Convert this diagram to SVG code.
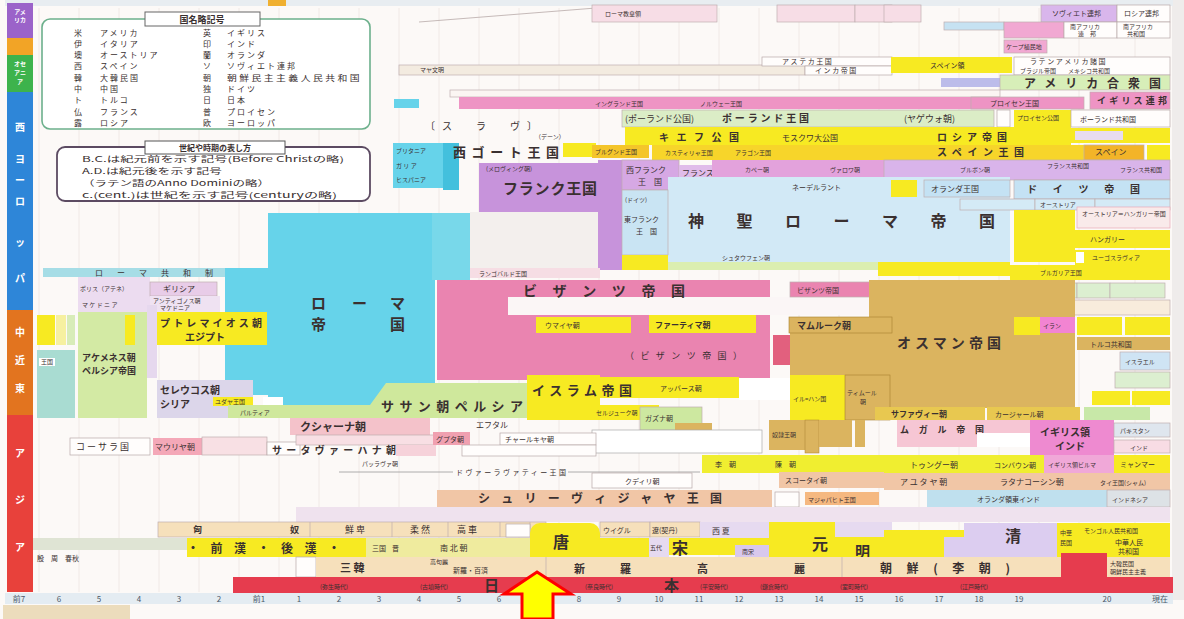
<svg xmlns="http://www.w3.org/2000/svg" width="1184" height="619" viewBox="0 0 1184 619">
<defs>
<style>
text{font-family:"Noto Sans CJK JP","Noto Sans CJK SC",sans-serif;fill:#3a3030}
.b{font-weight:bold}
.cy{fill:#66d3ea}
.pk{fill:#ea84b0}
.pu{fill:#c793db}
.hb{fill:#d2e9f6}
.ot{fill:#dbb45f}
.ye{fill:#f7ea22}
.yo{fill:#f4c52a}
.lg{fill:#d3eaa4}
.lv{fill:#ddd3ec}
.pe{fill:#f1c6a6}
.be{fill:#f6e0bb}
.rd{fill:#e63c4e}
.lp{fill:#f7dde6}
.bx{stroke:#bfaeb0;stroke-width:.7}
.wb{fill:#fffdfc;stroke:#b8a8a8;stroke-width:.7}
.s6{font-size:6px}
.s7{font-size:7px}
.s8{font-size:8px}
.s9{font-size:9px}
.ax{font-size:8px;fill:#4a5868;text-anchor:middle}
.sb{font-size:10px;fill:#fff;font-weight:bold;text-anchor:middle}
.lt{font-size:8px;letter-spacing:2px}
</style>
</defs>
<rect width="1184" height="619" fill="#fcf9f7"/>
<rect x="1172" y="0" width="12" height="600" fill="#efeceb"/>
<g id="grid">
<path d="M39 8V592M79 8V592M119 8V592M159 8V592M199 8V592M239 8V592M279 8V592M319 8V592M359 8V592M399 8V592M439 8V592M479 8V592M519 8V592M559 8V592M599 8V592M639 8V592M679 8V592M719 8V592M759 8V592M799 8V592M839 8V592M879 8V592M919 8V592M959 8V592M999 8V592M1039 8V592M1079 8V592M1135 8V592" stroke="#eee6e2" stroke-width="0.8"/>
</g>
<g id="top-axis">
<rect x="5" y="0" width="1168" height="6" fill="#e8edf1"/>
<rect x="268" y="0" width="18" height="6" fill="#f0b030"/>
<line x1="419" y1="22" x2="596" y2="8" stroke="#b8aaa8" stroke-width="0.8"/>
</g>
<g id="sidebar">
<rect x="7" y="3" width="26" height="35" fill="#9b63c9"/>
<rect x="7" y="38" width="26" height="17" fill="#f2a426"/>
<rect x="7" y="55" width="26" height="37" fill="#3db34c"/>
<rect x="7" y="92" width="26" height="218" fill="#2e86d8"/>
<rect x="7" y="310" width="26" height="105" fill="#e2741f"/>
<rect x="7" y="415" width="26" height="177" fill="#e8413b"/>
<text x="20" y="14" class="sb" style="font-size:6px">アメ</text>
<text x="20" y="22" class="sb" style="font-size:6px">リカ</text>
<text x="20" y="66" class="sb" style="font-size:6px">オセ</text>
<text x="20" y="75" class="sb" style="font-size:6px">アニ</text>
<text x="20" y="84" class="sb" style="font-size:6px">ア</text>
<text x="20" y="131" class="sb">西</text>
<text x="20" y="163" class="sb">ヨ</text>
<text x="20" y="184" class="sb">ー</text>
<text x="20" y="205" class="sb">ロ</text>
<text x="20" y="246" class="sb">ッ</text>
<text x="20" y="282" class="sb">パ</text>
<text x="20" y="336" class="sb">中</text>
<text x="20" y="364" class="sb">近</text>
<text x="20" y="392" class="sb">東</text>
<text x="20" y="457" class="sb">ア</text>
<text x="20" y="504" class="sb">ジ</text>
<text x="20" y="551" class="sb">ア</text>
</g>
<g id="legend-countries">
<rect x="42" y="19" width="328" height="110" rx="8" fill="#fff" stroke="#6cb08c" stroke-width="1.6"/>
<rect x="145" y="12" width="115" height="14" fill="#fff" stroke="#666" stroke-width="1"/>
<text x="202" y="23" class="s9 b" text-anchor="middle">国名略記号</text>
<g class="lt">
<text x="74" y="36">米</text><text x="100" y="36">アメリカ</text>
<text x="74" y="47">伊</text><text x="100" y="47">イタリア</text>
<text x="74" y="58">墺</text><text x="100" y="58">オーストリア</text>
<text x="74" y="69">西</text><text x="100" y="69">スペイン</text>
<text x="74" y="81">韓</text><text x="100" y="81">大韓民国</text>
<text x="74" y="92">中</text><text x="100" y="92">中国</text>
<text x="74" y="103">ト</text><text x="100" y="103">トルコ</text>
<text x="74" y="115">仏</text><text x="100" y="115">フランス</text>
<text x="74" y="126">露</text><text x="100" y="126">ロシア</text>
<text x="203" y="36">英</text><text x="227" y="36">イギリス</text>
<text x="203" y="47">印</text><text x="227" y="47">インド</text>
<text x="203" y="58">蘭</text><text x="227" y="58">オランダ</text>
<text x="203" y="69">ソ</text><text x="227" y="69">ソヴィエト連邦</text>
<text x="203" y="81">朝</text><text x="227" y="81" textLength="135" lengthAdjust="spacingAndGlyphs">朝鮮民主主義人民共和国</text>
<text x="203" y="92">独</text><text x="227" y="92">ドイツ</text>
<text x="203" y="103">日</text><text x="227" y="103">日本</text>
<text x="203" y="115">普</text><text x="227" y="115">プロイセン</text>
<text x="203" y="126">欧</text><text x="227" y="126">ヨーロッパ</text>
</g>
</g>
<g id="legend-periods">
<rect x="57" y="147" width="313" height="54" rx="8" fill="#fff" stroke="#5c4b62" stroke-width="1.8"/>
<rect x="145" y="141" width="140" height="13" fill="#fff" stroke="#555" stroke-width="1"/>
<text x="215" y="151" class="s8 b" text-anchor="middle">世紀や時期の表し方</text>
<text x="82" y="162" class="s8" textLength="262" lengthAdjust="spacingAndGlyphs">B.C.は紀元前を示す記号(Before Christの略)</text>
<text x="82" y="174" class="s8" textLength="140" lengthAdjust="spacingAndGlyphs">A.D.は紀元後を示す記号</text>
<text x="82" y="186" class="s8" textLength="188" lengthAdjust="spacingAndGlyphs">（ラテン語のAnno Dominiの略）</text>
<text x="82" y="198" class="s8" textLength="255" lengthAdjust="spacingAndGlyphs">c.(cent.)は世紀を示す記号(centuryの略)</text>
</g>
<g id="americas-top">
<rect x="592" y="5" width="125" height="17" class="lp bx"/>
<text x="605" y="16" class="s6">ローマ教皇領</text>
<rect x="777" y="5" width="78" height="17" class="lp bx"/>
<rect x="855" y="5" width="37" height="17" class="lp bx"/>
<rect x="884" y="5" width="37" height="17" class="lp bx"/>
<rect x="1041" y="5" width="76" height="17" fill="#d9b6ec" class="bx"/>
<text x="1052" y="16" class="s7">ソヴィエト連邦</text>
<rect x="1117" y="5" width="53" height="17" class="wb"/>
<text x="1124" y="16" class="s7">ロシア連邦</text>
<rect x="944" y="22" width="60" height="8" fill="#c6e2f2" class="bx"/>
<rect x="1004" y="22" width="60" height="16" fill="#f1a8d2" class="bx"/>
<rect x="1064" y="22" width="53" height="16" class="wb"/>
<text x="1070" y="29" class="s6">南アフリカ</text><text x="1078" y="36" class="s6">連　邦</text>
<rect x="1117" y="22" width="53" height="16" class="wb"/>
<text x="1123" y="29" class="s6">南アフリカ</text><text x="1127" y="36" class="s6">共和国</text>
<rect x="1004" y="40" width="43" height="13" fill="#f1a8d2" class="bx"/>
<text x="1006" y="49" class="s6">ケープ植民地</text>
<rect x="399" y="65" width="406" height="10" fill="#f3ebe0" class="bx"/>
<text x="420" y="72" class="s6" fill="#887">マヤ文明</text>
<rect x="762" y="57" width="130" height="9" class="wb"/>
<text x="782" y="64" class="s7">ア ス テ カ 王 国</text>
<rect x="805" y="66" width="87" height="9" class="wb"/>
<text x="815" y="73" class="s7">イ ン カ 帝 国</text>
<rect x="891" y="57" width="121" height="16" class="ye"/>
<text x="930" y="68" class="s7">スペイン領</text>
<rect x="1014" y="57" width="156" height="18" class="wb"/>
<text x="1030" y="64" class="s7">ラ テ ン ア メ リ カ 諸 国</text>
<text x="1020" y="73" class="s6">ブラジル帝国　　メキシコ共和国</text>
<rect x="941" y="78" width="59" height="9" fill="#bcbcea"/>
<rect x="1000" y="75" width="170" height="15" fill="#d7eeb8" class="bx"/>
<text x="1024" y="88" class="b" font-size="12" textLength="137" lengthAdjust="spacing">アメリカ合衆国</text>
</g>
<g id="europe-north">
<rect x="450" y="90" width="550" height="7" fill="#fbf5f2" class="bx"/>
<rect x="394" y="99" width="25" height="9" class="cy"/>
<rect x="459" y="97" width="512" height="12" fill="#ee94c4"/>
<text x="595" y="106" class="s6">イングランド王国</text>
<text x="700" y="106" class="s6">ノルウェー王国</text>
<rect x="971" y="97" width="113" height="12" fill="#ee94c4" class="bx"/>
<text x="990" y="106" class="s7">プロイセン王国</text>
<rect x="1090" y="92" width="80" height="17" fill="#ee94c4" class="bx"/>
<text x="1097" y="104" class="s9 b" textLength="70">イギリス連邦</text>
<rect x="622" y="110" width="372" height="17" fill="#dbedc6" class="bx"/>
<text x="625" y="122" class="s9">(ポーランド公国)</text>
<text x="722" y="122" class="b" font-size="10" textLength="87">ポーランド王国</text>
<text x="904" y="122" class="s9">(ヤゲウォ朝)</text>
<rect x="997" y="110" width="13" height="17" class="wb"/>
<rect x="1014" y="110" width="57" height="23" class="ye"/>
<text x="1017" y="120" class="s6">プロイセン公国</text>
<rect x="1071" y="110" width="99" height="17" class="wb"/>
<text x="1080" y="122" class="s7">ポーランド共和国</text>
<rect x="625" y="127" width="446" height="18" class="ye"/>
<text x="659" y="141" class="b" font-size="10" textLength="80">キエフ公国</text>
<text x="782" y="141" class="s8">モスクワ大公国</text>
<text x="937" y="141" class="b" font-size="10" textLength="70">ロシア帝国</text>
<rect x="1071" y="128" width="99" height="15" class="ye"/>
<rect x="1075" y="131" width="48" height="9" fill="#e8dcf0"/>
<text x="425" y="130" font-size="10" fill="#666" textLength="112">〔ス　ラ　ヴ〕</text>
<text x="535" y="139" class="s6" fill="#666">（デーン）</text>
</g>
<g id="europe-west">
<rect x="393" y="143" width="63" height="45" class="cy"/>
<rect x="443" y="143" width="16" height="47" fill="#43c0dd"/>
<text x="396" y="153" class="s6">ブリタニア</text>
<text x="396" y="168" class="s6">ガ リ ア</text>
<text x="396" y="182" class="s6">ヒスパニア</text>
<text x="453" y="157" class="b" font-size="13" textLength="106">西ゴート王国</text>
<rect x="563" y="143" width="33" height="14" class="ye"/>
<rect x="592" y="145" width="57" height="13" class="yo"/>
<text x="595" y="154" class="s6">ブルグンド王国</text>
<rect x="652" y="145" width="432" height="15" fill="#f7d52a"/>
<text x="665" y="155" class="s6">カスティリャ王国</text>
<text x="735" y="155" class="s6">アラゴン王国</text>
<text x="937" y="156" class="b" font-size="10" textLength="87">スペイン王国</text>
<rect x="1084" y="145" width="60" height="15" fill="#f3b428" class="bx"/>
<text x="1095" y="155" class="s8">スペイン</text>
<rect x="1147" y="145" width="23" height="15" class="ye"/>
<rect x="479" y="163" width="121" height="49" class="pu"/>
<text x="486" y="171" class="s6">(メロヴィング朝)</text>
<text x="503" y="194" class="b" font-size="15" textLength="94">フランク王国</text>
<rect x="598" y="160" width="24" height="110" class="pu"/>
<rect x="622" y="160" width="57" height="30" fill="#d6a8e4" class="bx"/>
<text x="626" y="173" class="s8">西フランク</text>
<text x="638" y="185" class="s8">王　国</text>
<rect x="679" y="165" width="33" height="13" fill="#e0bcea"/>
<text x="682" y="176" class="s8">フランス王国</text>
<rect x="712" y="160" width="172" height="18" fill="#e3a2dc"/>
<text x="745" y="172" class="s6">カペー朝</text>
<text x="830" y="172" class="s6">ヴァロワ朝</text>
<rect x="884" y="160" width="286" height="20" fill="#d9b4ea" class="bx"/>
<text x="960" y="172" class="s6">ブルボン朝</text>
<text x="1047" y="168" class="s6">フランス共和国</text>
<text x="1120" y="172" class="s6">フランス共和国</text>
<rect x="668" y="177" width="342" height="85" class="hb"/>
<text x="792" y="190" class="s7">ネーデルラント</text>
<text x="688" y="227" class="b" font-size="16" textLength="307">神聖ローマ帝国</text>
<text x="722" y="260" class="s6">シュタウフェン朝</text>
<rect x="622" y="190" width="46" height="65" fill="#c9e4f3" class="bx"/>
<text x="625" y="202" class="s6">(ドイツ)</text>
<text x="624" y="222" class="s7">東フランク</text>
<text x="636" y="234" class="s7">王　国</text>
<rect x="622" y="255" width="46" height="15" class="ye"/>
<rect x="668" y="262" width="210" height="8" fill="#dbeeb0"/>
<rect x="878" y="262" width="132" height="14" class="ye"/>
<rect x="891" y="180" width="26" height="17" class="ye"/>
<rect x="924" y="180" width="86" height="17" fill="#c4e2f4" class="bx"/>
<text x="931" y="192" class="s8">オランダ王国</text>
<rect x="1014" y="180" width="156" height="19" fill="#c4e2f4" class="bx"/>
<text x="1027" y="193" class="b" font-size="10" textLength="113">ドイツ帝国</text>
<rect x="960" y="199" width="75" height="11" fill="#d4eaf6" class="bx"/>
<rect x="1035" y="199" width="60" height="11" fill="#d4eaf6" class="bx"/>
<rect x="1095" y="199" width="75" height="11" fill="#d4eaf6" class="bx"/>
<text x="1040" y="207" class="s6">オーストリア</text>
<rect x="470" y="212" width="128" height="56" fill="#f3efed"/>
<rect x="470" y="268" width="130" height="10" fill="#f6dde4"/>
<text x="479" y="276" class="s6" fill="#c04070">ランゴバルド王国</text>
</g>
<g id="europe-east-right">
<rect x="1014" y="210" width="61" height="52" class="ye"/>
<rect x="1077" y="207" width="93" height="21" fill="#f9eaea" stroke="#e8a8b8" stroke-width=".7"/>
<text x="1082" y="216" class="s6" fill="#c04060">オーストリア＝ハンガリー帝国</text>
<rect x="1075" y="230" width="95" height="18" class="ye"/>
<text x="1090" y="242" class="s7">ハンガリー</text>
<rect x="1075" y="250" width="95" height="15" class="ye"/>
<rect x="1076" y="252" width="8" height="11" fill="#fff"/>
<text x="1092" y="260" class="s6">ユーゴスラヴィア</text>
<rect x="1010" y="265" width="160" height="15" class="ye"/>
<text x="1040" y="275" class="s6">ブルガリア王国</text>
<rect x="1020" y="283" width="57" height="15" fill="#dcefd0" class="bx"/>
<text x="1024" y="293" class="s6">ギリシア王国</text>
<rect x="1077" y="283" width="33" height="15" fill="#dcefd0" class="bx"/>
<rect x="1110" y="283" width="55" height="15" fill="#dcefd0" class="bx"/>
<rect x="1040" y="300" width="130" height="15" fill="#f8ecdc" class="bx"/>
</g>
<g id="rome">
<rect x="43" y="268" width="230" height="9" fill="#a6dde6"/>
<text x="95" y="276" class="s8" fill="#2a6070" textLength="118">ローマ共和制</text>
<rect x="225" y="268" width="48" height="127" class="cy"/>
<rect x="268" y="213" width="167" height="197" class="cy"/>
<rect x="432" y="213" width="38" height="67" fill="#78d8ea"/>
<text x="311" y="309" class="b" font-size="15">ロ</text>
<text x="352" y="309" class="b" font-size="15">ー</text>
<text x="390" y="309" class="b" font-size="15">マ</text>
<text x="311" y="330" class="b" font-size="15">帝</text>
<text x="390" y="330" class="b" font-size="15">国</text>
</g>
<g id="hellenistic">
<rect x="78" y="277" width="72" height="41" fill="#ecdcf0"/>
<text x="80" y="291" class="s6">ポリス（アテネ）</text>
<text x="82" y="307" class="s6">マ ケ ド ニ ア</text>
<rect x="150" y="282" width="67" height="14" fill="#e8cce8" class="bx"/>
<text x="163" y="292" class="s8">ギリシア</text>
<rect x="150" y="296" width="70" height="16" fill="#efe2f2"/>
<text x="153" y="303" class="s6">アンティゴノス朝</text>
<text x="160" y="310" class="s6">マケドニア</text>
<rect x="147" y="305" width="10" height="73" fill="#e6d8ee"/>
<rect x="37" y="315" width="18" height="30" class="ye"/>
<rect x="56" y="315" width="10" height="30" fill="#f6f0a0"/>
<rect x="67" y="315" width="8" height="30" fill="#d8ecb8"/>
<rect x="78" y="312" width="69" height="106" class="lg"/>
<rect x="125" y="315" width="10" height="30" class="ye"/>
<text x="82" y="361" class="s9 b">アケメネス朝</text>
<text x="82" y="374" class="s9 b">ペルシア帝国</text>
<rect x="37" y="350" width="38" height="68" fill="#a9dcd2"/>
<rect x="39" y="358" width="16" height="8" fill="#fff"/>
<text x="41" y="364" class="s6">王国</text>
<rect x="157" y="312" width="110" height="33" class="ye"/>
<text x="160" y="327" class="b" font-size="10" textLength="102">プトレマイオス朝</text>
<text x="185" y="341" class="b" font-size="10">エジプト</text>
<rect x="157" y="380" width="96" height="38" fill="#dcd6ea"/>
<text x="160" y="394" class="b" font-size="10">セレウコス朝</text>
<text x="160" y="408" class="b" font-size="10">シリア</text>
<rect x="213" y="397" width="40" height="9" class="ye"/>
<text x="215" y="404" class="s6">ユダヤ王国</text>
<rect x="263" y="397" width="20" height="10" fill="#fff"/>
<polygon points="386,383 528,383 528,418 228,418 228,405 370,405" fill="#cfe89c"/>
<text x="240" y="415" class="s6">パルティア</text>
<text x="381" y="411" class="b" font-size="13" textLength="142">ササン朝ペルシア</text>
</g>
<g id="byzantine">
<rect x="437" y="280" width="333" height="100" class="pk"/>
<rect x="508" y="297" width="362" height="18" fill="#fbf6f6"/>
<text x="523" y="296" class="b" font-size="14" fill="#6a2840" textLength="162">ビザンツ帝国</text>
<rect x="536" y="317" width="95" height="16" class="ye"/>
<text x="545" y="328" class="s7">ウマイヤ朝</text>
<rect x="649" y="315" width="107" height="18" class="ye"/>
<text x="655" y="328" class="s8 b">ファーティマ朝</text>
<text x="625" y="359" class="s9" fill="#a03060" textLength="117">（ビザンツ帝国）</text>
<rect x="790" y="282" width="80" height="15" class="pk bx"/>
<text x="797" y="293" class="s7">ビザンツ帝国</text>
<rect x="773" y="335" width="17" height="30" fill="#e2607e"/>
</g>
<g id="islam-ottoman">
<rect x="869" y="280" width="206" height="128" class="ot"/>
<rect x="790" y="317" width="80" height="58" class="ot"/>
<rect x="789" y="317" width="103" height="16" class="ot" stroke="#a88030" stroke-width=".6"/>
<text x="797" y="329" class="s9 b">マムルーク朝</text>
<text x="897" y="348" class="b" font-size="14" textLength="104">オスマン帝国</text>
<rect x="1014" y="317" width="26" height="18" class="ye"/>
<rect x="1040" y="317" width="35" height="16" fill="#f284d2"/>
<text x="1043" y="328" class="s6">イラン</text>
<rect x="1077" y="317" width="45" height="18" class="ye"/>
<rect x="1125" y="317" width="45" height="18" class="ye"/>
<rect x="1077" y="337" width="93" height="13" class="ot"/>
<text x="1090" y="347" class="s7">トルコ共和国</text>
<rect x="1120" y="352" width="50" height="18" fill="#cfe4f4" class="bx"/>
<text x="1125" y="364" class="s6">イスラエル</text>
<rect x="1115" y="372" width="55" height="16" fill="#dcefd0" class="bx"/>
<rect x="1092" y="391" width="38" height="14" class="ye"/>
<rect x="1132" y="391" width="38" height="14" class="ye"/>
<rect x="527" y="375" width="73" height="45" class="ye"/>
<rect x="592" y="377" width="147" height="21" class="ye"/>
<text x="532" y="395" class="b" font-size="13" textLength="100">イスラム帝国</text>
<text x="660" y="391" class="s7" fill="#8a7a30">アッバース朝</text>
<rect x="739" y="378" width="51" height="22" fill="#fff"/>
<rect x="790" y="375" width="55" height="45" class="ye"/>
<text x="793" y="401" class="s6">イル=ハン国</text>
<rect x="845" y="375" width="45" height="45" class="ot" stroke="#a88030" stroke-width=".6"/>
<text x="847" y="395" class="s6">ティムール</text>
<text x="860" y="404" class="s6">朝</text>
<rect x="592" y="405" width="67" height="15" class="ye"/>
<text x="596" y="415" class="s6">セルジューク朝</text>
<rect x="640" y="407" width="62" height="23" fill="#cde8a0" class="bx"/>
<text x="645" y="421" class="s7">ガズナ朝</text>
<rect x="675" y="423" width="37" height="8" class="ot"/>
<rect x="592" y="430" width="170" height="23" fill="#fff" stroke="#aaa" stroke-width=".7"/>
<rect x="769" y="420" width="36" height="30" class="ot"/>
<text x="772" y="437" class="s6">奴隷王朝</text>
<rect x="805" y="420" width="14" height="33" class="ot" stroke="#a88030" stroke-width=".5"/>
<rect x="819" y="420" width="33" height="27" class="ot"/>
<rect x="855" y="420" width="10" height="27" class="ot"/>
</g>
<g id="south-asia">
<rect x="875" y="407" width="110" height="13" fill="#e8c850"/>
<text x="891" y="417" class="s8 b">サファヴィー朝</text>
<rect x="987" y="407" width="93" height="13" fill="#e8c850"/>
<text x="995" y="417" class="s7">カージャール朝</text>
<rect x="1084" y="407" width="66" height="13" fill="#c8e8a8"/>
<rect x="897" y="420" width="133" height="27" fill="#f6c6d4"/>
<text x="900" y="433" class="s9 b" textLength="84">ムガル帝国</text>
<rect x="977" y="433" width="53" height="14" fill="#fff"/>
<rect x="1030" y="420" width="84" height="35" fill="#ee8ad0"/>
<text x="1040" y="436" class="b" font-size="10">イギリス領</text>
<text x="1055" y="450" class="b" font-size="10">インド</text>
<rect x="1114" y="423" width="56" height="14" fill="#dfe6ee" class="bx"/>
<text x="1120" y="433" class="s6">パキスタン</text>
<rect x="1114" y="440" width="56" height="13" fill="#f8dce4" class="bx"/>
<text x="1130" y="450" class="s6">インド</text>
<rect x="70" y="438" width="80" height="17" class="wb"/>
<text x="76" y="450" class="s9">コ ー サ ラ 国</text>
<rect x="153" y="438" width="49" height="17" fill="#f4a8b8"/>
<text x="155" y="450" class="s8">マウリヤ朝</text>
<rect x="202" y="437" width="65" height="18" fill="#f8e0e4" class="bx"/>
<rect x="267" y="442" width="33" height="13" class="wb"/>
<rect x="290" y="418" width="140" height="17" fill="#f4c2ca"/>
<text x="300" y="431" class="b" font-size="11" fill="#5a2830">クシャーナ朝</text>
<rect x="296" y="435" width="140" height="10" fill="#f8dfe4" class="bx"/>
<rect x="433" y="432" width="37" height="13" fill="#f0a0b0"/>
<text x="436" y="442" class="s7">グプタ朝</text>
<text x="476" y="428" class="s8">エフタル</text>
<rect x="500" y="433" width="96" height="12" class="wb"/>
<text x="505" y="442" class="s7">チャールキヤ朝</text>
<rect x="396" y="445" width="40" height="11" fill="#f6d2da"/>
<rect x="462" y="445" width="134" height="11" class="wb"/>
<text x="272" y="454" class="b" font-size="10" textLength="124">サータヴァーハナ朝</text>
<text x="362" y="466" class="s6" fill="#999">パッラヴァ朝</text>
<path d="M339 472H453M568 472H700" stroke="#999" stroke-width=".8"/>
<text x="456" y="475" class="s7" textLength="110">ドヴァーラヴァティー王国</text>
</g>
<g id="southeast-asia">
<rect x="702" y="455" width="342" height="18" fill="#f0ee30"/>
<text x="715" y="467" class="s7">李　朝</text>
<text x="775" y="467" class="s7">陳　朝</text>
<text x="910" y="468" class="s8">トゥングー朝</text>
<text x="994" y="468" class="s7">コンバウン朝</text>
<rect x="1044" y="455" width="70" height="18" fill="#f0a8d8"/>
<text x="1048" y="467" class="s6">イギリス領ビルマ</text>
<rect x="1114" y="455" width="56" height="18" class="ye"/>
<text x="1120" y="467" class="s7">ミャンマー</text>
<rect x="592" y="473" width="100" height="15" class="wb"/>
<text x="625" y="484" class="s7">クディリ朝</text>
<rect x="779" y="472" width="105" height="16" class="pe"/>
<text x="785" y="483" class="s7">スコータイ朝</text>
<rect x="884" y="473" width="286" height="17" class="pe"/>
<text x="900" y="485" class="s8">ア ユ タ ヤ 朝</text>
<text x="1000" y="485" class="s8">ラタナコーシン朝</text>
<text x="1100" y="485" class="s6">タイ王国(シャム)</text>
<rect x="437" y="490" width="335" height="17" class="pe"/>
<text x="478" y="503" class="b" font-size="12" textLength="244">シュリーヴィジャヤ王国</text>
<rect x="775" y="492" width="24" height="15" class="wb"/>
<rect x="805" y="492" width="74" height="13" fill="#f5b880"/>
<text x="808" y="502" class="s6">マジャパヒト王国</text>
<rect x="927" y="490" width="180" height="17" fill="#bfe0ee"/>
<text x="977" y="502" class="s7">オランダ領東インド</text>
<rect x="1107" y="490" width="63" height="17" fill="#dde2e6" class="bx"/>
<text x="1112" y="502" class="s6">インドネシア</text>
</g>
<g id="east-asia">
<rect x="296" y="507" width="874" height="15" fill="#efe2ee"/>
<rect x="158" y="522" width="388" height="15" class="be bx"/>
<path d="M310 522V537M392 522V537M448 522V537M500 522V537M530 522V537" stroke="#bfaeb0" stroke-width=".7"/>
<text x="193" y="533" class="s9 b">匈</text>
<text x="290" y="533" class="s9 b">奴</text>
<text x="345" y="533" class="s9">鮮 卑</text>
<text x="410" y="533" class="s9">柔 然</text>
<text x="457" y="533" class="s9">高 車</text>
<rect x="600" y="522" width="50" height="15" class="be bx"/>
<text x="603" y="533" class="s7">ウイグル</text>
<rect x="650" y="522" width="50" height="15" class="be bx"/>
<text x="652" y="533" class="s7">遼(契丹)</text>
<rect x="700" y="522" width="69" height="23" fill="#e6daf0"/>
<text x="712" y="534" class="s8">西 夏</text>
<rect x="33" y="538" width="157" height="12" fill="#dfe4d4"/>
<text x="37" y="561" class="s7">殷　周　春秋</text>
<rect x="187" y="538" width="358" height="19" class="ye"/>
<text x="187" y="553" class="b" font-size="12" textLength="153">・前漢・後漢・</text>
<rect x="366" y="538" width="164" height="19" fill="#efeb9e"/>
<text x="372" y="551" class="s7">三国</text>
<text x="392" y="551" class="s7">晋</text>
<text x="440" y="551" class="s8">南 北 朝</text>
<rect x="506" y="524" width="24" height="13" class="wb"/>
<rect x="530" y="523" width="70" height="34" rx="10" class="ye"/>
<rect x="530" y="538" width="119" height="19" class="ye"/>
<text x="553" y="548" class="b" font-size="16">唐</text>
<rect x="649" y="538" width="20" height="19" fill="#e6daf0"/>
<text x="650" y="550" class="s6">五代</text>
<rect x="669" y="538" width="100" height="17" class="ye"/>
<text x="672" y="554" class="b" font-size="16">宋</text>
<rect x="735" y="545" width="34" height="12" fill="#d8c8ec"/>
<text x="742" y="554" class="s6">南宋</text>
<rect x="769" y="522" width="66" height="35" class="ye"/>
<text x="812" y="550" class="b" font-size="16">元</text>
<rect x="835" y="522" width="57" height="15" fill="#e6daf0"/>
<rect x="835" y="537" width="142" height="20" class="ye"/>
<rect x="884" y="530" width="93" height="8" class="ye"/>
<text x="855" y="557" class="b" font-size="15">明</text>
<polygon points="964,523 1071,523 1071,557 944,557 944,537 964,537" fill="#dccdf0"/>
<text x="1005" y="542" class="b" font-size="16">清</text>
<rect x="1057" y="523" width="113" height="34" class="ye"/>
<text x="1060" y="535" class="s6">中華</text>
<text x="1060" y="545" class="s6">民国</text>
<text x="1084" y="533" class="s6">モンゴル人民共和国</text>
<text x="1115" y="545" class="s7">中華人民</text>
<text x="1118" y="554" class="s7">共和国</text>
<rect x="296" y="557" width="20" height="20" class="wb"/>
<rect x="316" y="557" width="854" height="20" class="be"/>
<path d="M546 557V577M842 557V577" stroke="#bfaeb0" stroke-width=".7"/>
<text x="340" y="572" class="b" font-size="11">三 韓</text>
<text x="430" y="564" class="s6">高句麗</text>
<text x="453" y="573" class="s7">新羅・百済</text>
<text x="574" y="573" class="b" font-size="11">新</text>
<text x="620" y="573" class="b" font-size="11">羅</text>
<text x="697" y="573" class="b" font-size="11">高</text>
<text x="794" y="573" class="b" font-size="11">麗</text>
<text x="880" y="573" class="b" font-size="12" textLength="130">朝鮮(李朝)</text>
<rect x="1061" y="553" width="46" height="24" class="rd"/>
<text x="1110" y="566" class="s6">大韓民国</text>
<text x="1110" y="574" class="s6">朝鮮民主主義</text>
</g>
<g id="japan">
<rect x="233" y="577" width="940" height="16" class="rd"/>
<text x="320" y="589" class="s6" fill="#6a1018">(弥生時代)</text>
<text x="420" y="589" class="s6" fill="#6a1018">(古墳時代)</text>
<text x="484" y="591" class="b" font-size="15" fill="#5a0a14">日</text>
<text x="585" y="589" class="s6" fill="#6a1018">(奈良時代)</text>
<text x="664" y="591" class="b" font-size="15" fill="#5a0a14">本</text>
<text x="700" y="589" class="s6" fill="#6a1018">(平安時代)</text>
<text x="760" y="589" class="s6" fill="#6a1018">(鎌倉時代)</text>
<text x="840" y="589" class="s6" fill="#6a1018">(室町時代)</text>
<text x="960" y="589" class="s6" fill="#6a1018">(江戸時代)</text>
</g>
<g id="bottom-axis">
<rect x="5" y="593" width="1168" height="11" fill="#e4ecf2"/>
<rect x="3" y="605" width="127" height="14" fill="#ecdcbc"/>
<text x="19" y="602" class="ax">前7</text>
<text x="59" y="602" class="ax">6</text>
<text x="99" y="602" class="ax">5</text>
<text x="139" y="602" class="ax">4</text>
<text x="179" y="602" class="ax">3</text>
<text x="219" y="602" class="ax">2</text>
<text x="259" y="602" class="ax">前1</text>
<text x="299" y="602" class="ax">1</text>
<text x="339" y="602" class="ax">2</text>
<text x="379" y="602" class="ax">3</text>
<text x="419" y="602" class="ax">4</text>
<text x="459" y="602" class="ax">5</text>
<text x="499" y="602" class="ax">6</text>
<text x="539" y="602" class="ax">7</text>
<text x="579" y="602" class="ax">8</text>
<text x="619" y="602" class="ax">9</text>
<text x="659" y="602" class="ax">10</text>
<text x="699" y="602" class="ax">11</text>
<text x="739" y="602" class="ax">12</text>
<text x="779" y="602" class="ax">13</text>
<text x="819" y="602" class="ax">14</text>
<text x="859" y="602" class="ax">15</text>
<text x="899" y="602" class="ax">16</text>
<text x="939" y="602" class="ax">17</text>
<text x="979" y="602" class="ax">18</text>
<text x="1019" y="602" class="ax">19</text>
<text x="1107" y="602" class="ax">20</text>
<text x="1160" y="602" class="ax">現在</text>
</g>
<g id="arrow">
<polygon points="537,572 571,594 553,594 553,619 522,619 522,594 504,594" fill="#ffff00" stroke="#ff0000" stroke-width="3" stroke-linejoin="miter"/>
</g>
</svg>
